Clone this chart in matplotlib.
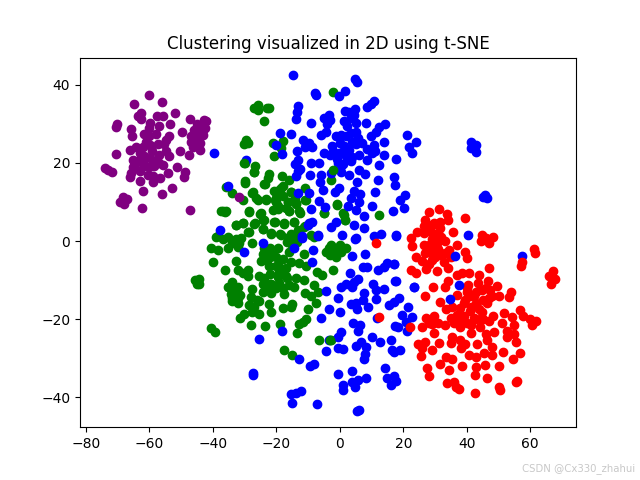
import numpy as np
import matplotlib
matplotlib.use('Agg')
import matplotlib.pyplot as plt

# t-SNE coordinates, one list per cluster
purple = [(-60.2,37.5),(-55.9,35.7),(-64.7,35),(-52,32.8),(-62.5,32.8),(-63.6,32),(-62.5,31.3),(-57.5,32),(-55.7,32),
    (-47.2,31.3),(-42.8,31),(-42,30.8),(-70.3,30),(-70.5,29.2),(-59.9,30.2),(-60.1,29),(-56.8,29.4),(-53.6,30),
    (-65.7,28.7),(-65.5,26.9),(-61.5,27.4),(-49.6,27.9),(-44.2,29.4),(-42.4,29),(-45.8,28.5),(-44.7,27.7),(-43.1,27.1),
    (-46.8,26.8),(-44.7,26.4),(-53.8,27),(-54.7,26),(-61,25.5),(-59.9,24.5),(-57.3,24.8),(-55.2,24.8),(-46.3,24.2),
    (-43.9,23.4),(-64.3,24.1),(-66.2,23.4),(-70.6,22.3),(-50.2,23),(-47.5,22),(-54.7,23),(-53.9,21.7),(-56.8,22),
    (-63,22.5),(-61.5,21.7),(-59.9,21.3),(-65.2,20.8),(-63.6,20.4),(-58.3,20.4),(-55.7,19.6),(-58.6,19.1),(-61.5,19.1),
    (-64.6,18.7),(-51.2,18.9),(-48.7,17.8),(-48.9,16.3),(-54.1,17.4),(-74,18.7),(-73,18.1),(-71.8,17.7),(-65.7,17.4),
    (-66.2,16.3),(-60.4,17),(-58.9,16.6),(-56.5,16.1),(-63,15.5),(-58.7,15.1),(-52.9,13.6),(-61.9,12.9),(-56,12),
    (-68.3,11.2),(-66.9,10.7),(-69.3,10),(-68,9.5),(-62.2,8.4),(-47.3,7.9),(-31.7,11.2),
    (-60,27),(-59,23),(-62,24),(-57,20),(-60,19),(-63,18),(-45,30),(-46,27),(-43,28.5),(-47,25.5),(-44,25),(-58,27.5),(-62,20),(-65,19)]

blue = [(-14.6,42.6),(4.7,41.6),(5.3,40.7),(-7.8,37.9),(-7.5,37.3),(1.6,38.4),(-0.1,37.2),(10.8,35.8),(9.8,35.1),(8.7,34.4),
    (-13.2,34.7),(-13.6,33),(-13.8,31.2),(4.7,33.9),(1.6,33.4),(-3.4,32.4),(-5.1,31.5),(-3,31.1),(-9.1,30.3),(4.5,32.4),
    (3.5,31.5),(1.4,30.8),(5.1,30.2),(8.2,30.2),(14.3,30.1),(12.4,29.1),(11.4,27.9),(9.8,26.8),(2.4,29.4),(0.3,27.2),
    (3.5,27.7),(-4.4,27.9),(-5.9,27.2),(-1.2,26.8),(-18.7,27.6),(-15.3,27.4),(-11.7,26),(-9.6,25.1),(-8.6,24.2),(21.3,27.1),
    (23.9,25.5),(21.8,24),(22.7,22.5),(13.8,25.4),(10.8,24.5),(8.7,23.6),(10.3,22.5),(13.8,22.1),(5.6,26.4),(5.1,24.8),
    (1.4,24.3),(-2.3,24.3),(3,23.4),(-0.2,22.5),(-5.1,22.5),(-3.1,22.1),(1.9,21.7),(-13.6,23),(-13.3,20.8),(-14,19.7),
    (-12.4,18.4),(-13.8,16.6),(-18.3,22.4),(-20.1,24.5),(8.7,20.8),(12.4,19.5),(17.6,21.1),(-9.1,20),(-6.5,20),(-0.7,20),
    (3.5,20.4),(0.3,19.1),(6.1,18.3),(7.9,17.2),(3,17),(0.3,17.8),(-2.8,17.4),(-9.5,16.8),(-5.9,17),(-6.1,15),(-5.4,13.1),
    (5.4,15),(11.9,15.7),(17.1,16.3),(17.3,14.4),(11.1,12.5),(-0.2,13.6),(-1.4,12.5),(4.5,12.7),(6.4,12),(3.7,11),
    (-13,12.2),(-9.6,12.4),(-6.6,10.3),(20.5,11.7),(19,10.6),(20.3,8.4),(16.8,7.7),(10,8.9),(2.6,9.1),(6.1,10.1),(5.1,8),
    (7.7,6.3),(4.5,4.2),(7.5,3.3),(-4.6,8.7),(-9.1,8.1),(-2.8,3.7),(-1.2,5),(-8.6,4.8),(-10.1,4.2),(0.7,1.6),(5.1,0.9),
    (-6.8,1.4),(-12,1.2),(10.8,1.2),(12.9,1.8),(17.6,1.6),(-39.7,22.5),(-29.5,20.8),(-35.3,14),(-37.7,2.8),
    (-24.3,-0.6),(-30.3,-2.9),(-14.4,-1.9),(-12,0.9),(-8.4,-2.3),(4.8,0.4),(-9.6,4.5),(-7,1.5),
    (4,-3.8),(8,-3.2),(-8.6,-5.3),(7.2,-6.6),(8.5,-6.6),(12.1,-7.3),(14,-6.7),(15,-5.7),(17.1,-5.9),(3.2,-8.3),(5.6,-9.6),
    (4.5,-10.4),(17.4,-10.2),(0.3,-11.7),(1.9,-11),(3.8,-11.7),(10.5,-11),(11.4,-12.6),(14,-12.2),(23.4,-11.7),(-4.4,-12.8),
    (7.7,-13.2),(7.2,-15),(11.4,-14.9),(-0.7,-14.7),(18.7,-14.7),(17.1,-15.5),(15.5,-16.4),(3.5,-16.1),(5,-16),(5.4,-17.5),
    (9,-17),(21.6,-16.8),(-3.3,-17.5),(0.1,-18.2),(19.5,-19),(22.6,-19.4),(20.8,-20.7),(11.6,-19.8),(-5.8,-19.6),(4.3,-20.9),
    (6.3,-21.5),(5.6,-23),(17.4,-21.8),(18.2,-22.1),(21.3,-23),(-18.3,-23.1),(-25.3,-25),(0.3,-23.4),(-0.7,-24.7),(-3.3,-25.4),
    (10.1,-24.5),(12.7,-25.8),(16.1,-25.4),(6.6,-25.8),(5.1,-26.9),(8.2,-27.1),(-0.7,-27.5),(0.9,-27.7),(-4.4,-28.1),
    (16.6,-27.8),(19,-27.8),(17.1,-28.4),(7.9,-29),(7.7,-30.3),(-12.8,-30.1),(-8,-31.4),(-9.4,-32),(14.3,-32.6),(3.8,-33.3),
    (-27.2,-33.9),(-27.2,-34.3),(-0.7,-34),(17.1,-34.6),(15,-35.2),(17.6,-35.8),(16.1,-36.9),(8.2,-35.2),(5.6,-35.5),
    (3.8,-36),(0.9,-36.9),(1.1,-38.2),(4.7,-37.5),(-12.2,-38.4),(-13.8,-39),(-15.4,-39.3),(-15.1,-41.6),(-7.2,-41.8),
    (6.1,-43.3),(5.3,-43.5),(41.2,25.5),(43,24.6),(41.2,23.8),(42.8,22.8),(45.8,11.8),(46.4,11),(45.2,11.2),
    (17.6,1.3),(17,-5.9),(17.6,-10.3),(23.4,-11.8),(57.5,-3.9),
    (2,27),(4,25.5),(0,25),(-2,23),(2,23),(4,21.5),(-1,21),(1,19.7),(6,22),(7,25),(3,33),(-4,30),(5,28),(-11,24),(-13,18),(11,23)]

# these blue points sit on top of the red ones
blue_top = [(40.3,1.5),(36.2,-3.8),(37.7,-11.3),(34.6,-14.9)]

green = [(-35.8,13.9),(-33.8,12.4),(-29.8,14.9),(-30.6,10.6),(-27.5,12.4),(-25.9,10.5),(-23.3,10.6),(-23.8,14.6),(-18.6,13.5),
    (-20.1,12.6),(-15.4,12.6),(-10.9,13.7),(-10.7,10.5),(-16.2,10),(-13.8,9.6),(-20.1,10),(-19.6,8.3),(-15.9,7.7),(-12.5,7.2),
    (-28.5,7.5),(-25,7),(-37.4,7.7),(-36.2,7.5),(-24.3,5.3),(-26.7,4.5),(-30.6,4.7),(-32.7,4),(-20.3,4.9),(-17.5,4.5),(-14.4,4.9),
    (-24.1,3),(-28.7,2.4),(-11,3.8),(-21.7,1.9),(-18.8,1.8),(-15.4,1.9),(-13.3,2.8),(-39,1.1),(-36.9,0.6),(-35.3,1.1),(-32.7,0.6),
    (-31.1,0.9),(-31.7,-0.6),(-27.5,-0.5),(-16.5,-0.2),(-13.5,-0.2),(-8.1,1),(-40.6,-1.7),(-38.3,-2.2),(-35.3,-1.7),(-32.2,-1.5),
    (-23.8,-1.9),(-21.9,-1.9),(-19.6,-1.9),(-24.1,-3.2),(-15.9,-2.8),(-20.1,-4.1),(-24.8,-5.1),(-23,-4.9),(-11.2,-3.4),(-12.8,-5.6),
    (-15.4,-5.3),(-10.7,-6.4),(-40,-5.5),(-32.7,-5.2),(-32,-7.3),(-36.2,-7.5),(-29,-7.3),(-22.2,-6.5),(-19.6,-6.2),(-17,-6.8),
    (-18,-7.9),(-30.6,-8.3),(-29,-9),(-25.4,-9),(-21.9,-8.5),(-19.6,-9.2),(-16.5,-9.4),(-13.8,-9.4),(-11.4,-9.9),(-7.2,-7.9),
    (-5.7,-8.8),(-2,-7.5),(-44.4,-9.8),(-44.2,-10.9),(-45.5,-10),(-45.1,-11),(-33.8,-10.5),(-35.3,-11.8),(-32,-11.8),(-24.3,-11.1),
    (-21.7,-10.9),(-19.1,-10.7),(-15.9,-11.3),(-14.4,-11.8),(-27.5,-12.4),(-24.3,-13),(-21.7,-13.3),(-17.5,-13.5),(-8.1,-11.3),
    (-11,-13.3),(-9.1,-14.1),(-6.8,-13),(-34.3,-13.6),(-31.3,-13.9),(-28,-14.3),(-33.8,-15.3),(-32.2,-14.7),(-25.4,-15.3),(-7.5,-16),
    (-14.9,-16.2),(-22.2,-16.2),(-18,-17.1),(-15.4,-16.9),(-28.5,-16.5),(-10,-17.3),(-21.7,-18.2),(-27.5,-18.2),(-25.4,-18.6),
    (-30.1,-18.6),(-31.3,-19.6),(-10.7,-20.1),(-11.7,-20.7),(-12.8,-21.2),(-18.8,-21.2),(-23.5,-21.8),(-27.9,-21.6),(-13.6,-23.5),
    (-40.4,-22.3),(-39.2,-23.3),(-6.5,-25.4),(-2.6,-25.3),(-17.5,-28),(-15.1,-29.3),(-3.4,-1.9),(-4.4,-2.8),(-1.8,-1.9),(0.3,-2.8),
    (1.9,-1.9),(-1.3,-4.1),(-2.8,-1.1),(1.4,6.6),(1.7,5.3),(-0.9,9.4),(-4.9,7.3),
    (-2,38.2),(-25.9,34.8),(-26.9,34.1),(-25.9,33.7),(-22.2,34.2),(-22.9,34.1),(-23.7,30.7),(-29.5,26),(-28.8,25.1),(-30,24.8),
    (-21.1,25.1),(-18,25.7),(-18.5,23.8),(-20.6,21.9),(-29.8,20),(-26.7,19.1),(-26.9,17.6),(-22.2,17.2),(-22.7,16.1),(-23.6,14.6),
    (-18.2,16.7),(-15.9,15.7),(-29.8,15.3),(-27.4,12.5),(-26.4,11),(-23.2,10.8),(-20.6,12.7),(-18,14),(-19,13.1),(-15.2,12.5),
    (-10.9,10.4),(-20.3,10.6),(-19.6,8.9),(-16.4,10.1),(-15.9,7.8),(-12.8,7.6),(-13.8,9.7),(-28.5,7.6),(-24.8,7.2),(-23.8,5.4),
    (-26.9,4.4),(-30.6,4.6),(-24.3,3.1),(-20.6,5),(-17.7,4.4),(-14.3,5),(-28.8,2.3),(-21.7,2),(-18.5,1.6),(-14.9,1.6),(-11.2,3.7),
    (-2.8,15.7),(-4.9,7.3),(-0.9,9.3),(0.9,7.2),(1.7,5.3),(12.4,6.6),(-8.9,1.6),(-36.9,7.8),(-35.8,7.6),(-32.7,4.2),(-38.4,1.2),
    (-20,11),(-18,11.5),(-21,8),(-17,8.5),(-14,11),(-22,-4),(-20,-6.5),(-18,-4.5),(-19,-8),(-17,-9),(-22,-11),(-20,-12),(-18,-12),
    (-24,-9.5),(-23,-12),(-26,-15),(-27,-17),(-33,-12.5),(-34,-14.5),(-32,-16),(-16,1),(-15,-1),(-14,1),(-33,0),(-34,-0.5),(-1,-3),
    (0,-1),(-3,-3.5),(-23,-3),(-21,-3.5)]

# these green points sit on top of the blue ones
green_top = [(-2.1,18.3),(-26.9,17.6),(-30,20),(-3,-25.3)]

red = [(31.4,8.1),(28.1,7.4),(33.8,7),(39.5,6),(34,5.4),(27,5.4),(31.7,5),(29.6,4.5),(26.5,3.9),(31.7,3.3),(24.2,2.4),(35.7,2.2),
    (28.6,2.4),(22.3,0.9),(30.7,1.6),(26.5,2),(44.8,1.6),(48.3,1.1),(44.5,-0.1),(47.1,-0.6),(45.9,0.7),(33.3,-0.1),(30.7,-0.6),
    (26.5,-1),(22.9,-1.4),(37,-1),(29.1,-1.9),(34.3,-2.3),(39.3,-2.7),(61.1,-2.1),(61.6,-3.1),(23.9,-4.2),(28.6,-3.1),(31.7,-3.6),
    (40.1,-4.4),(26,-5),(29.1,-4.8),(32.8,-5.3),(57.4,-5.3),(57.2,-6.4),(27.2,-7.2),(34,-6.8),(22.5,-7.4),(23.9,-8.3),(30.7,-7.7),
    (46.9,-6.9),(40.6,-8.1),(38.5,-8.3),(36.8,-8.6),(67,-7.8),(65.8,-8.9),(67.7,-9.6),(66.6,-11.1),(43.8,-8.7),(34,-10.2),(46.7,-10.2),
    (43.5,-10.8),(33.1,-11.9),(29.3,-11.9),(40.3,-11.3),(49.5,-11.5),(44.8,-12.5),(47.4,-12.5),(40.1,-13),(27,-14.1),(37,-13.8),
    (42.2,-14.2),(46.9,-14.7),(50.1,-14.2),(53.9,-13.1),(53.2,-14.4),(31.7,-15.7),(39.6,-15.1),(46.4,-16),(35.2,-16.8),(38,-17.2),
    (41.2,-16.8),(43.8,-17.5),(33.6,-17.5),(56.7,-17.7),(51.6,-18.5),(54.3,-19.4),(57.6,-19.2),(48.2,-19.2),(44.8,-18.1),(29.6,-19.2),
    (27.2,-19.8),(34.9,-19.8),(39.1,-19.2),(42.2,-19.8),(47.1,-20.4),(60,-20),(61.8,-20.4),(51.1,-21.1),(54.8,-21.5),(60.5,-21.5),
    (22.1,-22),(26,-22),(29.1,-21.3),(33.3,-21.5),(37.8,-22),(41.2,-21.5),(44.1,-22.1),(52.7,-23),(48.7,-23.2),(29.6,-23.5),(41.2,-23.6),
    (45.9,-23.7),(54.8,-23.9),(52.7,-24.5),(35.2,-24.5),(46.4,-25.4),(11.3,-0.5),(12.3,-19.5),
    (24.6,-26.5),(26.7,-25.8),(26,-27.5),(25.7,-29.5),(29.2,-27.8),(31.3,-26.2),(34.9,-26.2),(37.9,-25.4),(39.6,-26.4),(38.1,-27.5),
    (43.3,-26.5),(40.7,-29.2),(42.8,-29.8),(45.4,-28.8),(48,-27.1),(48,-29.2),(51.3,-28.4),(56.9,-28.8),(54.6,-30.1),(55.4,-25.8),
    (33.6,-29.6),(35.4,-30.3),(31.6,-31.5),(27.6,-32.5),(28.1,-34.6),(34.4,-33.1),(38.6,-32),(42.8,-32.2),(42.6,-34.3),(45.7,-31.7),
    (50.1,-32),(46.5,-35),(33.7,-36.5),(36,-36),(36.5,-37.3),(37.5,-38),(42.6,-39),(50.1,-37.5),(50.4,-38.2),(55.4,-36),(55.9,-35.8),
    (29,4),(28,3),(31,2),(29,0.5),(32,1),(28,-1),(31,-2),(33,-3),(30,-4),(27,-3),(35,-4),(28,-6),(40,-12),(41,-14),(43,-13),(39,-16),
    (41,-18),(37,-19),(43,-20),(40,-21),(38,-20),(45,-15),(48,-14),(46,-12),(36,-21),(43,-16),(45,-20),(31,-21),(28,-21)]

# draw order matters where the clusters overlap
layers = [(green, 'green'), (blue, 'blue'), (green_top, 'green'), (purple, 'purple'), (red, 'red'), (blue_top, 'blue')]

fig, ax = plt.subplots(figsize=(6.4, 4.8), dpi=100)
for pts, col in layers:
    pts = np.array(pts)
    ax.scatter(pts[:, 0], pts[:, 1], c=col)

ax.set_xlim(-81.8, 74.4)
ax.set_ylim(-47.7, 47)
ax.set_title('Clustering visualized in 2D using t-SNE')

# watermark in the corner
fig.text(0.992, 0.012, 'CSDN @Cx330_zhahui', color='#c8c8c8', fontsize=7.3, ha='right', va='bottom')

fig.savefig('out.png', dpi=100)
